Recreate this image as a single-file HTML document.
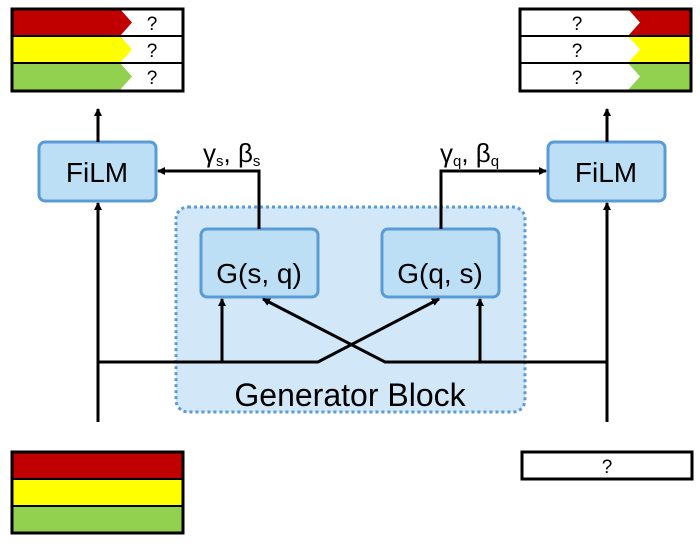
<!DOCTYPE html>
<html><head><style>body{margin:0;background:#fff}</style></head><body>
<svg width="700" height="543" xmlns="http://www.w3.org/2000/svg" font-family="Liberation Sans, DejaVu Sans, sans-serif">
<defs><marker id="a" markerWidth="8" markerHeight="8" refX="7" refY="4" orient="auto" markerUnits="userSpaceOnUse"><path d="M0,0 L8,4 L0,8 z" fill="#000"/></marker></defs>
<rect x="12" y="9" width="171" height="82" fill="#fff"/>
<polygon points="12,9 120,9 132,22.5 120,36 12,36" fill="#c00000"/>
<polygon points="12,36 120,36 132,49.5 120,63 12,63" fill="#ffff00"/>
<polygon points="12,63 120,63 132,76.5 120,90 12,90" fill="#92d050"/>
<line x1="12" y1="36" x2="183" y2="36" stroke="#000" stroke-width="2"/>
<line x1="12" y1="63" x2="183" y2="63" stroke="#000" stroke-width="2"/>
<rect x="12" y="9" width="171" height="82" fill="none" stroke="#000" stroke-width="3"/>
<g font-size="19" text-anchor="middle"><text x="152" y="30">?</text><text x="152" y="57">?</text><text x="152" y="84">?</text></g>
<rect x="520" y="9" width="171" height="82" fill="#fff"/>
<polygon points="628,9 690,9 690,36 628,36 640,22.5" fill="#c00000"/>
<polygon points="628,36 690,36 690,63 628,63 640,49.5" fill="#ffff00"/>
<polygon points="628,63 690,63 690,90 628,90 640,76.5" fill="#92d050"/>
<line x1="520" y1="36" x2="691" y2="36" stroke="#000" stroke-width="2"/>
<line x1="520" y1="63" x2="691" y2="63" stroke="#000" stroke-width="2"/>
<rect x="520" y="9" width="171" height="82" fill="none" stroke="#000" stroke-width="3"/>
<g font-size="19" text-anchor="middle"><text x="577" y="30">?</text><text x="577" y="57">?</text><text x="577" y="84">?</text></g>
<rect x="176" y="207" width="349" height="205" rx="12" fill="#d2e8f8" stroke="#5b9bd5" stroke-width="3" stroke-dasharray="3,3"/>
<rect x="39" y="142" width="117" height="59" rx="6" fill="#bddff5" stroke="#5b9bd5" stroke-width="3"/>
<rect x="548" y="142" width="117" height="59" rx="6" fill="#bddff5" stroke="#5b9bd5" stroke-width="3"/>
<rect x="201" y="229" width="117" height="68" rx="6" fill="#bddff5" stroke="#5b9bd5" stroke-width="3"/>
<rect x="382" y="229" width="117" height="68" rx="6" fill="#bddff5" stroke="#5b9bd5" stroke-width="3"/>
<g font-size="28" text-anchor="middle"><text x="97" y="182">FiLM</text><text x="606" y="182">FiLM</text>
<text x="259" y="283">G(s, q)</text><text x="440" y="283">G(q, s)</text></g>
<text x="350" y="406" font-size="32" text-anchor="middle">Generator Block</text>
<text x="203" y="162" font-size="26">γ<tspan font-size="15" dy="4">s</tspan><tspan dy="-4">, β</tspan><tspan font-size="15" dy="4">s</tspan></text>
<text x="440" y="162" font-size="26">γ<tspan font-size="15" dy="4">q</tspan><tspan dy="-4">, β</tspan><tspan font-size="15" dy="4">q</tspan></text>
<g stroke="#000" stroke-width="3" fill="none">
<line x1="98" y1="142" x2="98" y2="109" marker-end="url(#a)"/>
<line x1="607" y1="142" x2="607" y2="109" marker-end="url(#a)"/>
<polyline points="259,229 259,171 158,171" marker-end="url(#a)"/>
<polyline points="441,229 441,171 546,171" marker-end="url(#a)"/>
<line x1="98" y1="422" x2="98" y2="203" marker-end="url(#a)"/>
<line x1="607" y1="422" x2="607" y2="203" marker-end="url(#a)"/>
<polyline points="98,362 318,362 439,299" marker-end="url(#a)"/>
<polyline points="607,362 385,362 263,299" marker-end="url(#a)"/>
<line x1="222" y1="362" x2="222" y2="299" marker-end="url(#a)"/>
<line x1="480" y1="362" x2="480" y2="299" marker-end="url(#a)"/>
</g>
<rect x="12" y="452" width="171" height="27" fill="#c00000"/>
<rect x="12" y="479" width="171" height="27" fill="#ffff00"/>
<rect x="12" y="506" width="171" height="27" fill="#92d050"/>
<line x1="12" y1="479" x2="183" y2="479" stroke="#000" stroke-width="2"/>
<line x1="12" y1="506" x2="183" y2="506" stroke="#000" stroke-width="2"/>
<rect x="12" y="452" width="171" height="81" fill="none" stroke="#000" stroke-width="3"/>
<rect x="522" y="452" width="170" height="27" fill="#fff" stroke="#000" stroke-width="3"/>
<text x="607" y="473" font-size="19" text-anchor="middle">?</text>
</svg>
</body></html>
